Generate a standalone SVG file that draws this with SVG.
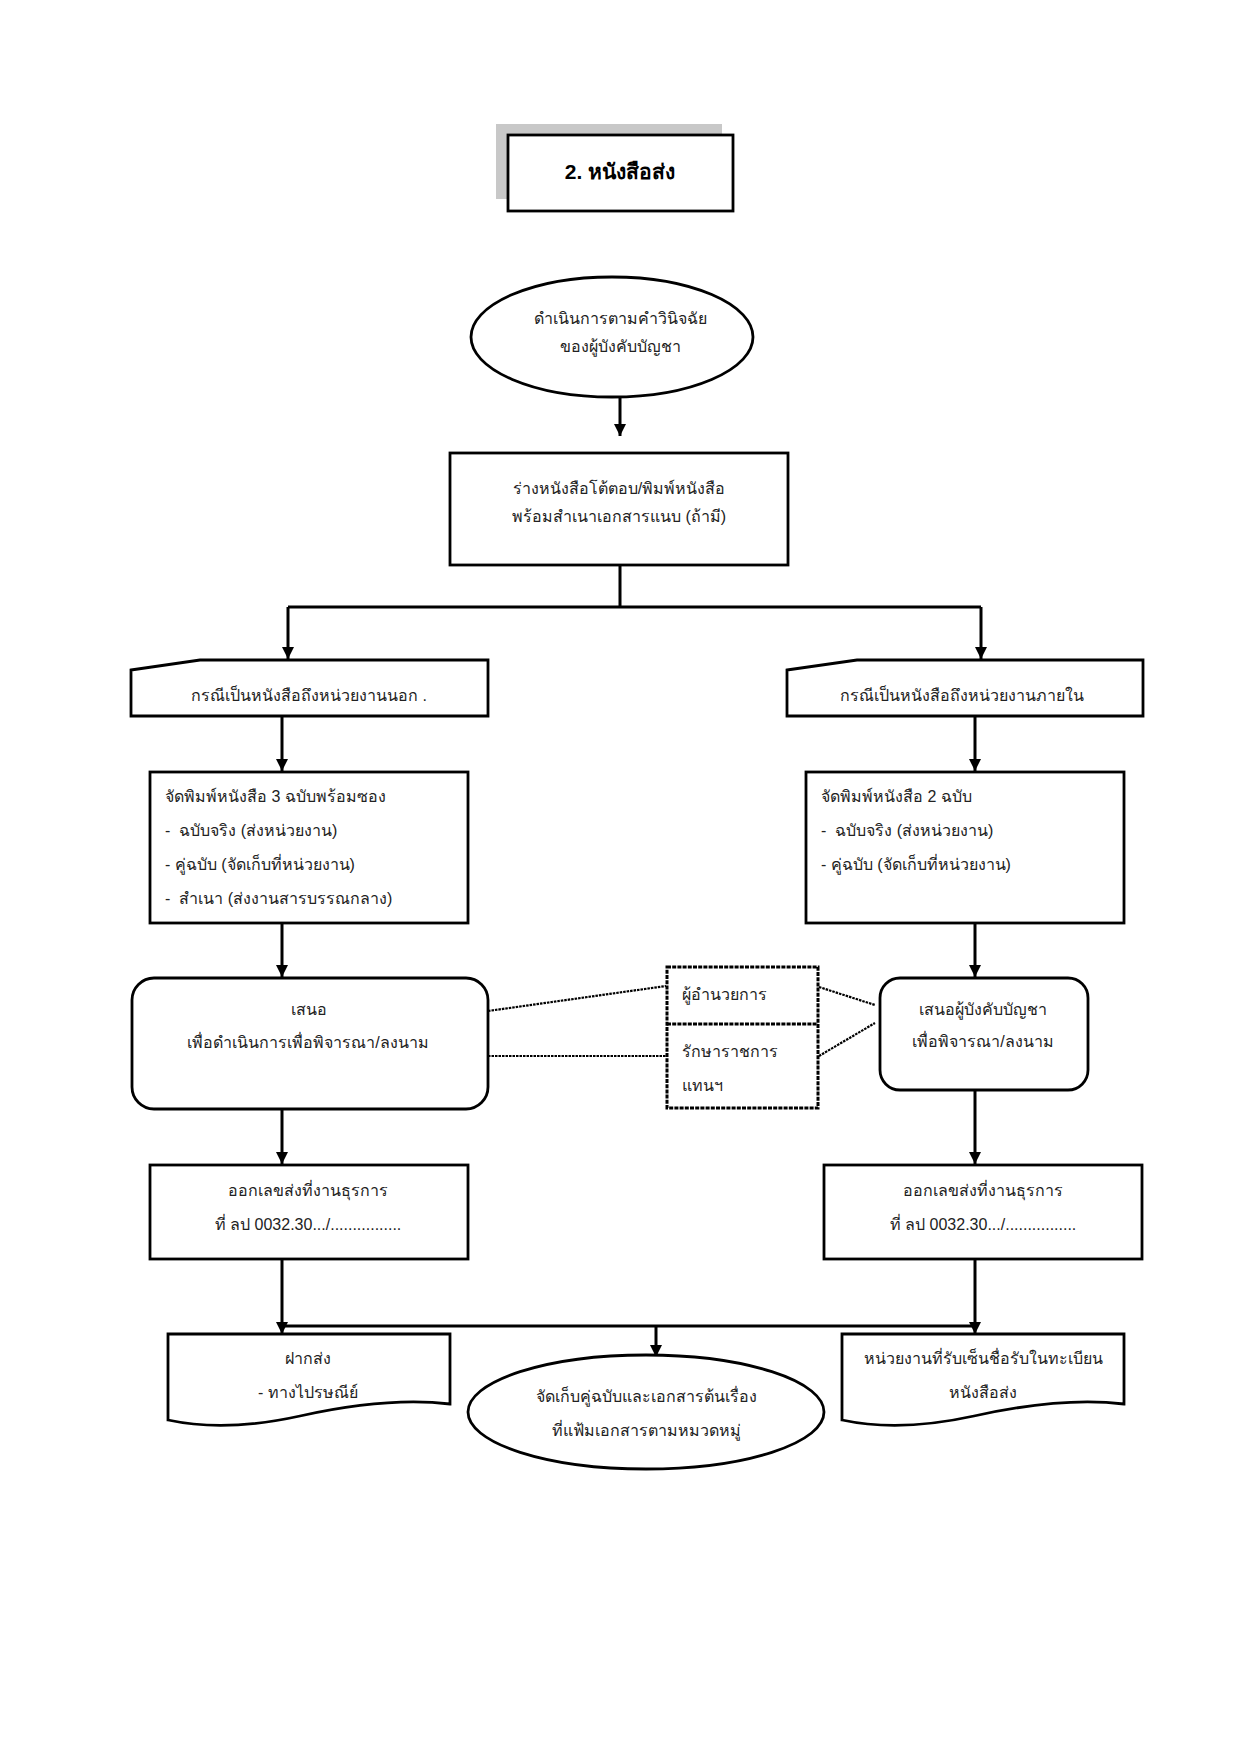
<svg xmlns="http://www.w3.org/2000/svg" width="1240" height="1754" viewBox="0 0 1240 1754">
<defs>
<marker id="arr" markerUnits="userSpaceOnUse" markerWidth="12" markerHeight="12" refX="12" refY="6" orient="auto">
<path d="M0,0 L12,6 L0,12 z" fill="#000"/>
</marker>
<style>
.box{fill:#fff;stroke:#000;stroke-width:2.8}
.dot{fill:#fff;stroke:#000;stroke-width:3;stroke-dasharray:4 1.2}
.ln{fill:none;stroke:#000;stroke-width:3}
.dl{fill:none;stroke:#000;stroke-width:2.2;stroke-dasharray:2.5 1}
.t{font-family:"Liberation Sans","Noto Sans",sans-serif;font-size:16px;fill:#222}
.c{text-anchor:middle}
.title{font-family:"Liberation Sans","Noto Sans",sans-serif;font-size:21px;font-weight:bold;fill:#000;text-anchor:middle}
</style>
</defs>
<rect x="0" y="0" width="1240" height="1754" fill="#fff"/>

<g id="title">
<rect x="496" y="124" width="226" height="75" fill="#c8c8c8"/>
<rect class="box" x="508" y="135" width="225" height="76"/>
<text class="title" x="620" y="179">2. หนังสือส่ง</text>
</g>

<g id="connectors">
<path class="ln" d="M620,378 V436" marker-end="url(#arr)"/>
<path class="ln" d="M620,564 V607 M288,607 H981"/>
<path class="ln" d="M288,607 V659" marker-end="url(#arr)"/>
<path class="ln" d="M981,607 V659" marker-end="url(#arr)"/>
<path class="ln" d="M282,715 V771" marker-end="url(#arr)"/>
<path class="ln" d="M975,715 V771" marker-end="url(#arr)"/>
<path class="ln" d="M282,922 V977" marker-end="url(#arr)"/>
<path class="ln" d="M975,922 V977" marker-end="url(#arr)"/>
<path class="ln" d="M282,1108 V1164" marker-end="url(#arr)"/>
<path class="ln" d="M975,1089 V1164" marker-end="url(#arr)"/>
<path class="ln" d="M282,1258 V1334" marker-end="url(#arr)"/>
<path class="ln" d="M975,1258 V1334" marker-end="url(#arr)"/>
<path class="ln" d="M282,1326 H975"/>
<path class="ln" d="M656,1326 V1357" marker-end="url(#arr)"/>
<path class="dl" d="M488,1011 L666,986"/>
<path class="dl" d="M488,1056 L666,1056"/>
<path class="dl" d="M819,987 L875,1005"/>
<path class="dl" d="M819,1056 L875,1023"/>
</g>

<g id="start">
<ellipse class="box" cx="612" cy="337" rx="141" ry="60"/>
<text class="t c" x="620" y="324">ดำเนินการตามคำวินิจฉัย</text>
<text class="t c" x="620" y="352">ของผู้บังคับบัญชา</text>
</g>

<g id="draft">
<rect class="box" x="450" y="453" width="338" height="112"/>
<text class="t c" x="619" y="494">ร่างหนังสือโต้ตอบ/พิมพ์หนังสือ</text>
<text class="t c" x="619" y="522">พร้อมสำเนาเอกสารแนบ (ถ้ามี)</text>
</g>

<g id="case-out">
<path class="box" d="M131,670 L200,660 L488,660 L488,716 L131,716 Z"/>
<text class="t c" x="309" y="701">กรณีเป็นหนังสือถึงหน่วยงานนอก .</text>
</g>

<g id="case-in">
<path class="box" d="M787,670 L857,660 L1143,660 L1143,716 L787,716 Z"/>
<text class="t c" x="962" y="701">กรณีเป็นหนังสือถึงหน่วยงานภายใน</text>
</g>

<g id="print3">
<rect class="box" x="150" y="772" width="318" height="151"/>
<text class="t" x="165" y="802">จัดพิมพ์หนังสือ 3 ฉบับพร้อมซอง</text>
<text class="t" x="165" y="836">-&#160; ฉบับจริง (ส่งหน่วยงาน)</text>
<text class="t" x="165" y="870">- คู่ฉบับ (จัดเก็บที่หน่วยงาน)</text>
<text class="t" x="165" y="904">-&#160; สำเนา (ส่งงานสารบรรณกลาง)</text>
</g>

<g id="print2">
<rect class="box" x="806" y="772" width="318" height="151"/>
<text class="t" x="821" y="802">จัดพิมพ์หนังสือ 2 ฉบับ</text>
<text class="t" x="821" y="836">-&#160; ฉบับจริง (ส่งหน่วยงาน)</text>
<text class="t" x="821" y="870">- คู่ฉบับ (จัดเก็บที่หน่วยงาน)</text>
</g>

<g id="propose-left">
<rect class="box" x="132" y="978" width="356" height="131" rx="22" ry="22"/>
<text class="t c" x="309" y="1015">เสนอ</text>
<text class="t c" x="308" y="1048">เพื่อดำเนินการเพื่อพิจารณา/ลงนาม</text>
</g>

<g id="director">
<rect class="dot" x="667" y="967" width="151" height="141"/>
<line class="dot" x1="667" y1="1024" x2="818" y2="1024"/>
<text class="t" x="682" y="1000">ผู้อำนวยการ</text>
<text class="t" x="682" y="1057">รักษาราชการ</text>
<text class="t" x="682" y="1091">แทนฯ</text>
</g>

<g id="propose-right">
<rect class="box" x="880" y="978" width="208" height="112" rx="20" ry="20"/>
<text class="t c" x="983" y="1015">เสนอผู้บังคับบัญชา</text>
<text class="t c" x="983" y="1047">เพื่อพิจารณา/ลงนาม</text>
</g>

<g id="number-left">
<rect class="box" x="150" y="1165" width="318" height="94"/>
<text class="t c" x="308" y="1196">ออกเลขส่งที่งานธุรการ</text>
<text class="t c" x="308" y="1230">ที่ ลป 0032.30.../................</text>
</g>

<g id="number-right">
<rect class="box" x="824" y="1165" width="318" height="94"/>
<text class="t c" x="983" y="1196">ออกเลขส่งที่งานธุรการ</text>
<text class="t c" x="983" y="1230">ที่ ลป 0032.30.../................</text>
</g>

<g id="send">
<path class="box" d="M168,1334 H450 V1404 C400,1398 345,1406 300,1416 C250,1427 205,1428 168,1420 Z"/>
<text class="t c" x="308" y="1364">ฝากส่ง</text>
<text class="t c" x="308" y="1398">- ทางไปรษณีย์</text>
</g>

<g id="archive">
<ellipse class="box" cx="646" cy="1412" rx="178" ry="57"/>
<text class="t c" x="646" y="1402">จัดเก็บคู่ฉบับและเอกสารต้นเรื่อง</text>
<text class="t c" x="646" y="1436">ที่แฟ้มเอกสารตามหมวดหมู่</text>
</g>

<g id="register">
<path class="box" d="M842,1334 H1124 V1404 C1074,1398 1019,1406 974,1416 C924,1427 879,1428 842,1420 Z"/>
<text class="t c" x="983" y="1364">หน่วยงานที่รับเซ็นชื่อรับในทะเบียน</text>
<text class="t c" x="983" y="1398">หนังสือส่ง</text>
</g>
</svg>
